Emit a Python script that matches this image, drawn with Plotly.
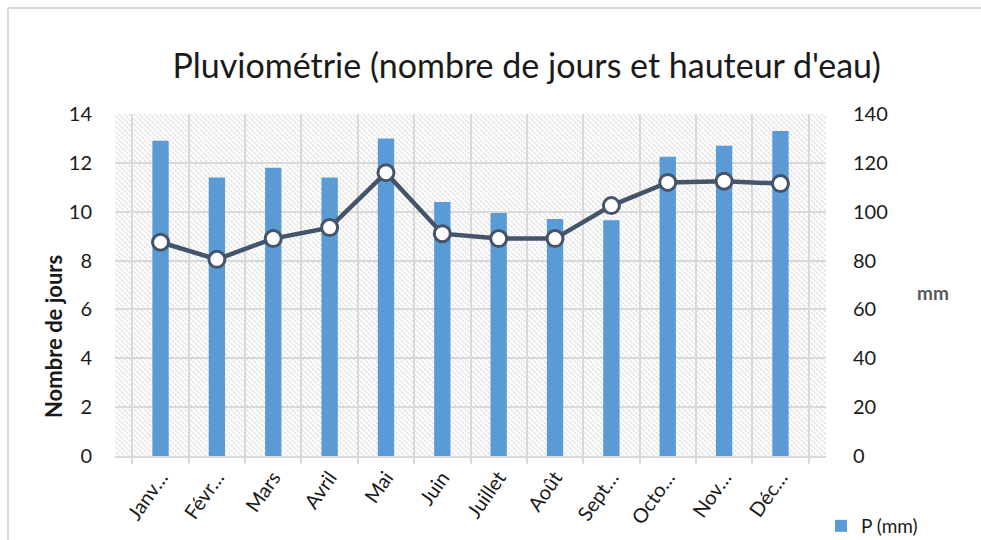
import base64
import plotly.graph_objects as go

months = ["Janv…", "Févr…", "Mars", "Avril", "Mai", "Juin", "Juillet", "Août",
          "Sept…", "Octo…", "Nov…", "Déc…"]
precip_mm = [129, 114, 118, 114, 130, 104, 99.5, 97, 96.5, 122.5, 127, 133]
rain_days = [8.75, 8.05, 8.9, 9.35, 11.6, 9.1, 8.9, 8.9, 10.25, 11.2, 11.25, 11.15]
left_ticks = [0, 2, 4, 6, 8, 10, 12, 14]
right_ticks = [0, 20, 40, 60, 80, 100, 120, 140]

FONT = "Lato"
GRID = "#d9d9d9"
TXT = "#1a1a1a"

svg = (
    '<svg xmlns="http://www.w3.org/2000/svg" width="711" height="342" '
    'viewBox="0 0 711 342" preserveAspectRatio="none">'
    '<defs><pattern id="h" width="3.6" height="3.6" patternUnits="userSpaceOnUse" '
    'patternTransform="rotate(45)">'
    '<line x1="0" y1="1" x2="3.6" y2="1" stroke="#d6d6d6" stroke-width="1.1" '
    'stroke-dasharray="1.6 0.8"/>'
    '</pattern></defs>'
    '<rect width="711" height="342" fill="white"/>'
    '<rect width="711" height="342" fill="url(#h)"/></svg>'
)
hatch_uri = "data:image/svg+xml;base64," + base64.b64encode(svg.encode()).decode()

fig = go.Figure()
fig.add_trace(go.Bar(
    x=months, y=precip_mm, name="P (mm)", yaxis="y",
    marker=dict(color="#5b9bd5", line=dict(width=0)), width=0.29,
))
fig.add_trace(go.Scatter(
    x=months, y=rain_days, name="Nombre de jours", yaxis="y2",
    mode="lines+markers", showlegend=False,
    line=dict(color="#44546a", width=4.5),
    marker=dict(symbol="circle", size=16, color="white",
                line=dict(color="#44546a", width=3)),
))

fig.update_layout(
    template="none",
    width=981, height=540,
    margin=dict(l=115, r=155, t=114, b=84, autoexpand=False),
    paper_bgcolor="white",
    plot_bgcolor="rgba(0,0,0,0)",
    font=dict(family=FONT, size=20, color=TXT),
    title=dict(
        text="Pluviométrie (nombre de jours et hauteur d'eau)",
        x=0.579, xref="paper", xanchor="center",
        y=1 - 66 / 540, yref="container", yanchor="middle",
        font=dict(family=FONT, size=34, color=TXT),
    ),
    xaxis=dict(
        type="category", tickson="boundaries",
        showgrid=True, gridcolor=GRID, gridwidth=2,
        showline=True, linecolor=GRID, linewidth=2,
        ticks="outside", ticklen=6, tickcolor=GRID, tickwidth=2,
        tickangle=-55, tickfont=dict(size=20, color=TXT),
        automargin=False, zeroline=False,
    ),
    yaxis=dict(
        side="right", range=[0, 140], tickvals=right_ticks,
        showgrid=True, gridcolor=GRID, gridwidth=2,
        zeroline=False, showline=False, ticks="",
        ticklabelstandoff=26, tickfont=dict(size=20, color=TXT),
        automargin=False,
    ),
    yaxis2=dict(
        overlaying="y", side="left", range=[0, 14], tickvals=left_ticks,
        showgrid=False, zeroline=False, showline=False, ticks="",
        ticklabelstandoff=22, tickfont=dict(size=20, color=TXT),
        automargin=False,
    ),
    legend=dict(
        x=(821 - 115) / 711, xanchor="left",
        y=-(526 - 456) / 342, yanchor="middle",
        bgcolor="rgba(0,0,0,0)", font=dict(size=19, color=TXT),
    ),
    showlegend=True,
    images=[dict(
        source=hatch_uri, xref="paper", yref="paper",
        x=0, y=1, sizex=1, sizey=1, xanchor="left", yanchor="top",
        sizing="stretch", layer="below",
    )],
    shapes=[
        dict(type="line", xref="paper", yref="paper",
             x0=(8 - 115) / 711, x1=(8 - 115) / 711,
             y0=1 + (114 - 8) / 342, y1=-0.4,
             line=dict(color=GRID, width=2)),
        dict(type="line", xref="paper", yref="paper",
             x0=(8 - 115) / 711, x1=1.3,
             y0=1 + (114 - 8) / 342, y1=1 + (114 - 8) / 342,
             line=dict(color=GRID, width=2)),
    ],
    annotations=[
        dict(text="<b>Nombre de jours</b>", xref="paper", yref="paper",
             x=(53 - 115) / 711, y=(456 - 337) / 342, textangle=-90,
             xanchor="center", yanchor="middle",
             showarrow=False, font=dict(size=22, color=TXT)),
        dict(text="<b>mm</b>", xref="paper", yref="paper",
             x=(933 - 115) / 711, y=(456 - 292) / 342,
             xanchor="center", yanchor="middle",
             showarrow=False, font=dict(size=19, color="#595959")),
    ],
)

fig.write_html(
    "out.html",
    config={"displayModeBar": False},
    post_script="document.body.style.margin='0';document.body.style.overflow='hidden';",
)
